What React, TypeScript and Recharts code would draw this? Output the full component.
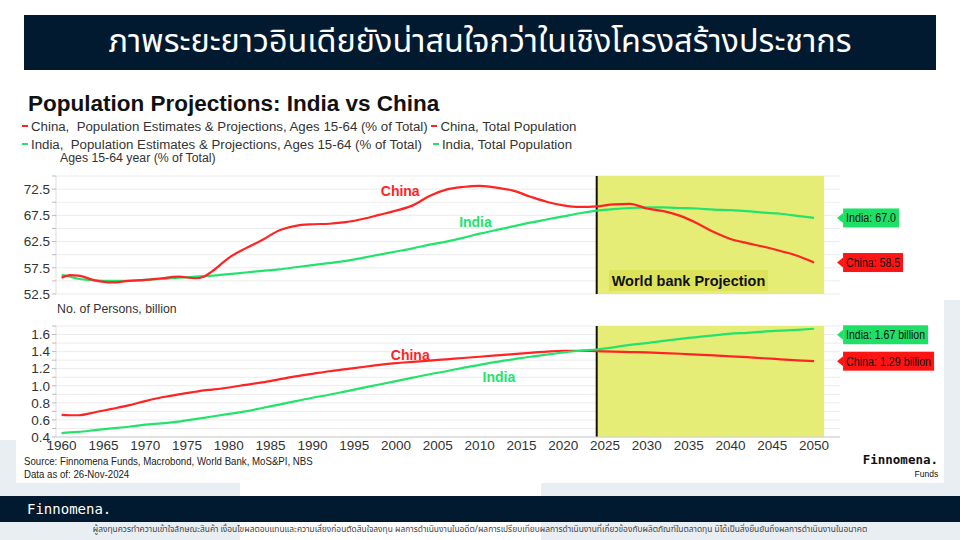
import React from 'react'
import {
  LineChart,
  Line,
  XAxis,
  YAxis,
  CartesianGrid,
  ReferenceArea,
  ReferenceLine,
  ReferenceDot,
  LabelList,
} from 'recharts'

const years = [
  1960, 1961, 1962, 1964, 1966, 1968, 1970, 1972, 1974, 1976, 1977, 1978, 1980, 1982, 1984, 1986,
  1988, 1990, 1992, 1994, 1996, 1998, 2000, 2002, 2004, 2006, 2008, 2010, 2012, 2014, 2016, 2018,
  2020, 2022, 2024, 2026, 2028, 2030, 2032, 2034, 2036, 2038, 2040, 2042, 2044, 2046, 2048, 2050,
]

// Ages 15-64, % of total
const chinaWorkingAge = [
  55.6, 56.1, 56.0, 55.1, 54.7, 55.0, 55.2, 55.5, 55.8, 55.5, 55.8, 56.8, 59.4, 61.2, 62.8, 64.6,
  65.5, 65.8, 65.9, 66.2, 66.8, 67.6, 68.4, 69.4, 71.2, 72.4, 72.9, 73.1, 72.8, 72.2, 71.1, 70.1,
  69.4, 69.1, 69.2, 69.6, 69.7, 68.8, 68.3, 67.4, 66.0, 64.3, 63.0, 62.2, 61.5, 60.7, 59.8, 58.5,
]
const indiaWorkingAge = [
  56.1, 55.8, 55.4, 55.1, 55.0, 55.0, 55.2, 55.4, 55.6, 55.8, 55.9, 56.0, 56.3, 56.6, 56.9, 57.2,
  57.6, 58.0, 58.4, 58.8, 59.4, 60.0, 60.6, 61.2, 61.9, 62.5, 63.2, 64.0, 64.7, 65.4, 66.1, 66.7,
  67.3, 67.9, 68.4, 68.7, 68.9, 69.0, 69.0, 68.9, 68.8, 68.6, 68.5, 68.3, 68.0, 67.8, 67.4, 67.0,
]

// Total population, billion
const chinaPopulation = [
  0.66, 0.655, 0.655, 0.69, 0.73, 0.77, 0.82, 0.865, 0.9, 0.93, 0.945, 0.955, 0.98, 1.01, 1.04, 1.075,
  1.11, 1.14, 1.17, 1.195, 1.22, 1.245, 1.265, 1.28, 1.295, 1.31, 1.325, 1.34, 1.355, 1.37, 1.385, 1.4,
  1.41, 1.41, 1.405, 1.4, 1.395, 1.39, 1.383, 1.375, 1.365, 1.355, 1.345, 1.335, 1.322, 1.31, 1.298, 1.288,
]
const indiaPopulation = [
  0.445, 0.455, 0.46, 0.48, 0.5, 0.52, 0.545, 0.56, 0.58, 0.61, 0.625, 0.64, 0.67, 0.7, 0.74, 0.78,
  0.82, 0.86, 0.895, 0.935, 0.975, 1.015, 1.055, 1.095, 1.135, 1.17, 1.21, 1.245, 1.28, 1.31, 1.34, 1.365,
  1.39, 1.41, 1.425, 1.45, 1.48, 1.5, 1.525, 1.55, 1.57, 1.59, 1.61, 1.62, 1.635, 1.645, 1.655, 1.668,
]

const xTicks = [1960, 1965, 1970, 1975, 1980, 1985, 1990, 1995, 2000, 2005, 2010, 2015, 2020, 2025, 2030, 2035, 2040, 2045, 2050]
const workingAgeTicks = [52.5, 55, 57.5, 60, 62.5, 65, 67.5, 70, 72.5, 75]
const populationTicks = [0.4, 0.5, 0.6, 0.7, 0.8, 0.9, 1.0, 1.1, 1.2, 1.3, 1.4, 1.5, 1.6, 1.7]

const projectionStart = 2024
const projectionEnd = 2051.2

const RED = '#ff2323'
const GREEN = '#22e36c'
const YELLOW = '#e6ed76'
const NAVY = '#021a30'
const PANEL_GREY = '#e9eef2'
const FONT = '"Liberation Sans", Arial, sans-serif'

const workingAgeData = years.map((y, i) => ({ year: y, china: chinaWorkingAge[i], india: indiaWorkingAge[i] }))
const populationData = years.map((y, i) => ({ year: y, china: chinaPopulation[i], india: indiaPopulation[i] }))
const lastIdx = years.length - 1

const xDomain = [1959.33, 2053.1]

function EndTag(props: any) {
  const { x, y, index, value, fill, label, width, dy = 0 } = props
  if (index !== lastIdx || x == null) return null
  const cy = y + dy
  const bx = x + 29
  return (
    <g>
      <polygon points={`${x + 23},${cy} ${bx},${cy - 5} ${bx},${cy + 5}`} fill={fill} />
      <rect x={bx} y={cy - 9.5} width={width} height={19} fill={fill} />
      <text
        x={bx + 3}
        y={cy + 4.5}
        fontSize={12}
        fontFamily={FONT}
        fill="#111"
        textLength={width - 6}
        lengthAdjust="spacingAndGlyphs"
      >
        {label(value)}
      </text>
    </g>
  )
}

const majorAge = (v: number) => {
  const k = (v - 52.5) / 5
  return Math.abs(k - Math.round(k)) < 1e-6 ? v.toFixed(1) : ''
}
const majorPop = (v: number) => (Math.round(v * 10) % 2 === 0 ? v.toFixed(1) : '')

const tickStyle = { fontSize: 13.5, fill: '#333', fontFamily: FONT }

function LegendDash({ color }: { color: string }) {
  return <span style={{ display: 'inline-block', width: 6, height: 2, background: color, margin: '0 3px 4px 0', verticalAlign: 'middle' }} />
}

export default function App() {
  return (
    <div style={{ position: 'absolute', left: 0, top: 0, width: 960, height: 540, background: '#fff', overflow: 'hidden', fontFamily: FONT }}>
      {/* slide background bits */}
      <div style={{ position: 'absolute', left: 944, top: 300, width: 16, height: 196, background: PANEL_GREY }} />
      <div style={{ position: 'absolute', left: 0, top: 440, width: 16, height: 56, background: PANEL_GREY }} />
      <div style={{ position: 'absolute', left: 0, top: 483, width: 240, height: 57, background: PANEL_GREY }} />
      <div style={{ position: 'absolute', left: 541, top: 483, width: 419, height: 57, background: PANEL_GREY }} />

      {/* heading bar */}
      <div
        style={{
          position: 'absolute', left: 24, top: 15, width: 912, height: 55, background: NAVY, color: '#fff',
          display: 'flex', alignItems: 'center', justifyContent: 'center', fontSize: 32.4,
          fontFamily: '"Noto Sans Thai", "Noto Sans", "DejaVu Sans", sans-serif', whiteSpace: 'nowrap',
        }}
      >
        ภาพระยะยาวอินเดียยังน่าสนใจกว่าในเชิงโครงสร้างประชากร
      </div>

      {/* chart title and legend */}
      <div style={{ position: 'absolute', left: 28, top: 90, fontSize: 22.5, fontWeight: 700, color: '#111', whiteSpace: 'nowrap', lineHeight: '28px' }}>
        Population Projections: India vs China
      </div>
      <div style={{ position: 'absolute', left: 22, top: 118, fontSize: 13.25, color: '#333', whiteSpace: 'nowrap', lineHeight: '18px' }}>
        <div>
          <LegendDash color={RED} />China,&nbsp; Population Estimates &amp; Projections, Ages 15-64 (% of Total)&nbsp;
          <LegendDash color={RED} />China, Total Population
        </div>
        <div>
          <LegendDash color={GREEN} />India,&nbsp; Population Estimates &amp; Projections, Ages 15-64 (% of Total)&nbsp;&nbsp;&nbsp;
          <LegendDash color={GREEN} />India, Total Population
        </div>
      </div>
      <div style={{ position: 'absolute', left: 60, top: 151, fontSize: 12.3, color: '#333' }}>Ages 15-64 year (% of Total)</div>
      <div style={{ position: 'absolute', left: 57, top: 302, fontSize: 12.3, color: '#333' }}>No. of Persons, billion</div>

      {/* top panel: working age share */}
      <div style={{ position: 'absolute', left: 0, top: 160 }}>
        <LineChart width={960} height={150} data={workingAgeData} margin={{ top: 16, right: 120, bottom: 16, left: 0 }}>
          <ReferenceArea x1={projectionStart} x2={projectionEnd} fill={YELLOW} fillOpacity={1} stroke="none" />
          <CartesianGrid vertical={false} stroke="#ececec" />
          <XAxis dataKey="year" type="number" domain={xDomain} ticks={xTicks} tick={false} height={0} axisLine={{ stroke: '#ccc' }} tickLine={false} allowDataOverflow />
          <YAxis domain={[52.5, 75]} ticks={workingAgeTicks} tickFormatter={majorAge} width={56} tick={tickStyle} tickSize={4} tickLine={{ stroke: '#bbb' }} axisLine={{ stroke: '#ddd' }} interval={0} allowDataOverflow />
          <ReferenceLine x={projectionStart} stroke="#111" strokeWidth={2} />
          <ReferenceDot x={2000.5} y={72.1} r={0} stroke="none" label={{ value: 'China', fill: RED, fontSize: 14, fontWeight: 700, position: 'center' }} />
          <ReferenceDot x={2009.5} y={66.2} r={0} stroke="none" label={{ value: 'India', fill: GREEN, fontSize: 14, fontWeight: 700, position: 'center' }} />
          <Line type="monotone" dataKey="india" stroke={GREEN} strokeWidth={2.2} dot={false} isAnimationActive={false}>
            <LabelList dataKey="india" content={(p: any) => <EndTag {...p} fill="#1fe067" width={56} label={(v: number) => `India: ${v.toFixed(1)}`} />} />
          </Line>
          <Line type="monotone" dataKey="china" stroke={RED} strokeWidth={2.2} dot={false} isAnimationActive={false}>
            <LabelList dataKey="china" content={(p: any) => <EndTag {...p} fill="#ff1414" width={60} label={(v: number) => `China: ${v.toFixed(1)}`} />} />
          </Line>
        </LineChart>
      </div>
      <div
        style={{
          position: 'absolute', left: 609, top: 270, width: 159, height: 21, background: '#dce35b',
          fontSize: 14.5, fontWeight: 700, color: '#111', display: 'flex', alignItems: 'center', justifyContent: 'center',
        }}
      >
        World bank Projection
      </div>

      {/* bottom panel: total population */}
      <div style={{ position: 'absolute', left: 0, top: 316 }}>
        <LineChart width={960} height={140} data={populationData} margin={{ top: 10, right: 120, bottom: 3, left: 0 }}>
          <ReferenceArea x1={projectionStart} x2={projectionEnd} fill={YELLOW} fillOpacity={1} stroke="none" />
          <CartesianGrid vertical={false} stroke="#ececec" />
          <XAxis dataKey="year" type="number" domain={xDomain} ticks={xTicks} interval={0} height={16} tick={{ ...tickStyle, dy: -3 }} tickLine={false} axisLine={{ stroke: '#ccc' }} tickMargin={0} allowDataOverflow />
          <YAxis domain={[0.4, 1.7]} ticks={populationTicks} tickFormatter={majorPop} width={56} tick={tickStyle} tickSize={4} tickLine={{ stroke: '#bbb' }} axisLine={{ stroke: '#ddd' }} interval={0} allowDataOverflow />
          <ReferenceLine x={projectionStart} stroke="#111" strokeWidth={2} />
          <ReferenceDot x={2001.7} y={1.365} r={0} stroke="none" label={{ value: 'China', fill: RED, fontSize: 14, fontWeight: 700, position: 'center' }} />
          <ReferenceDot x={2012.3} y={1.103} r={0} stroke="none" label={{ value: 'India', fill: GREEN, fontSize: 14, fontWeight: 700, position: 'center' }} />
          <Line type="monotone" dataKey="china" stroke={RED} strokeWidth={2.2} dot={false} isAnimationActive={false}>
            <LabelList dataKey="china" content={(p: any) => <EndTag {...p} fill="#ff1414" width={91} label={(v: number) => `China: ${v.toFixed(2)} billion`} />} />
          </Line>
          <Line type="monotone" dataKey="india" stroke={GREEN} strokeWidth={2.2} dot={false} isAnimationActive={false}>
            <LabelList dataKey="india" content={(p: any) => <EndTag {...p} fill="#1fe067" dy={6} width={85} label={(v: number) => `India: ${v.toFixed(2)} billion`} />} />
          </Line>
        </LineChart>
      </div>

      {/* source and branding */}
      <div style={{ position: 'absolute', left: 24, top: 455, fontSize: 10.5, color: '#222', lineHeight: '13px', transform: 'scaleX(0.92)', transformOrigin: 'left top', whiteSpace: 'nowrap' }}>
        <div>Source: Finnomena Funds, Macrobond, World Bank, MoS&amp;PI, NBS</div>
        <div>Data as of: 26-Nov-2024</div>
      </div>
      <div style={{ position: 'absolute', right: 22, top: 452, textAlign: 'right', color: '#111', whiteSpace: 'nowrap' }}>
        <div style={{ fontFamily: '"DejaVu Sans Mono", monospace', fontWeight: 700, fontSize: 12.5, lineHeight: '16px' }}>Finnomena.</div>
        <div style={{ fontSize: 9.5, lineHeight: '12px', transform: 'scaleX(0.9)', transformOrigin: 'right top' }}>Funds</div>
      </div>

      {/* footer bar */}
      <div style={{ position: 'absolute', left: 0, top: 496, width: 960, height: 26, background: NAVY }} />
      <div style={{ position: 'absolute', left: 27, top: 499, color: '#fff', fontFamily: '"DejaVu Sans Mono", monospace', fontSize: 14, lineHeight: '20px' }}>Finnomena.</div>
      <div
        style={{
          position: 'absolute', left: 0, top: 523, width: 960, textAlign: 'center', fontSize: 8.4, color: '#444',
          fontFamily: '"Noto Sans Thai", "Noto Sans", sans-serif', whiteSpace: 'nowrap',
        }}
      >
        ผู้ลงทุนควรทำความเข้าใจลักษณะสินค้า เงื่อนไขผลตอบแทนและความเสี่ยงก่อนตัดสินใจลงทุน ผลการดำเนินงานในอดีต/ผลการเปรียบเทียบผลการดำเนินงานที่เกี่ยวข้องกับผลิตภัณฑ์ในตลาดทุน มิได้เป็นสิ่งยืนยันถึงผลการดำเนินงานในอนาคต
      </div>
    </div>
  )
}
